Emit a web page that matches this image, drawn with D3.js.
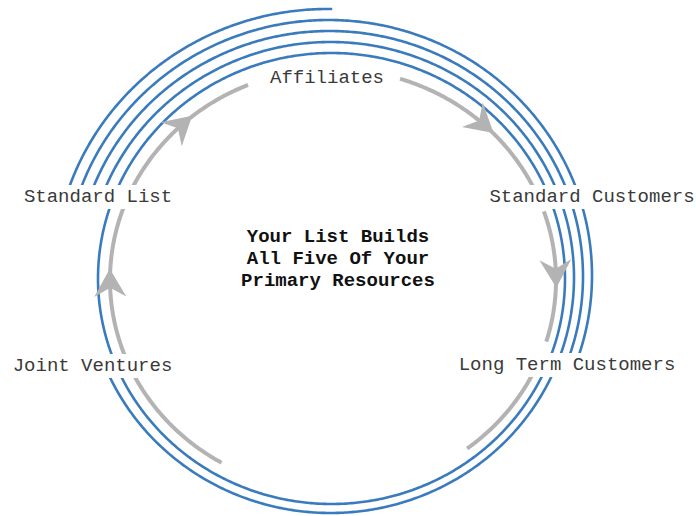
<!DOCTYPE html>
<html><head><meta charset="utf-8">
<script src="https://cdn.jsdelivr.net/npm/d3@7"></script>
<style>html,body{margin:0;padding:0;background:#fff;} svg{display:block;}</style>
</head><body>
<svg id="chart" width="696" height="516"></svg>
<script>
// ---------- data ----------
const stages = ["Affiliates", "Standard Customers", "Long Term Customers", "Joint Ventures", "Standard List"];
// blue rings, outermost first: where each ring starts and ends (clockwise)
const ringFrom = ["Standard List", "Standard List", "Standard List", "Standard List", "Joint Ventures"];
const ringTo   = ["Affiliates", "Long Term Customers", "Long Term Customers", "Joint Ventures", "Joint Ventures"];
// grey flow arrows between stages
const flowFrom  = ["Standard List", "Affiliates", "Standard Customers", "Long Term Customers", "Joint Ventures"];
const flowTo    = ["Affiliates", "Standard Customers", "Long Term Customers", "Joint Ventures", "Standard List"];
const flowArrow = [true, true, true, false, true];
const centerLines = ["Your List Builds", "All Five Of Your", "Primary Resources"];

// ---------- layout ----------
const W = 696, H = 516;
const stageAngle = {"Affiliates": 1, "Standard Customers": 70, "Long Term Customers": 111, "Joint Ventures": 248, "Standard List": 289};
const labelPos = {
  "Affiliates": [327, 83], "Standard Customers": [592, 202], "Long Term Customers": [567, 370],
  "Joint Ventures": [92.5, 371], "Standard List": [98, 202]
};
const ring0 = {cx: 331.5, cy: 278.5, rx: 233.5, ry: 225.5};   // innermost ring
const ringStep = 10, ringDrift = 1;
const grey = {cx: 333, cy: 280, rx: 223, ry: 211};
// visible grey pieces per flow (degrees, clockwise from top) and arrow position
const flowPieces = [[[-66, -22.4]], [[17.5, 64]], [[71, 107]], [[113, 143], [210, 247]], [[249, 294]]];
const flowArrowAt = [-43, 42, 88, null, -91];

const BLUE = "#3a7bbd", GREY = "#b3b3b3";
const FONT = "'Courier New', 'Liberation Mono', monospace";

const svg = d3.select("#chart");
svg.append("rect").attr("width", W).attr("height", H).attr("fill", "#fff");

const rad = d3.scaleLinear().domain([0, 360]).range([0, 2 * Math.PI]);
const pt = (e, a) => [e.cx + e.rx * Math.sin(a), e.cy - e.ry * Math.cos(a)];
const line = d3.line();
function arcPath(e, a0, a1) {
  const n = Math.max(8, Math.ceil(Math.abs(a1 - a0) * 2));
  const pts = d3.range(n + 1).map(i => pt(e, rad(a0 + (a1 - a0) * i / n)));
  return line(pts);
}

// blue rings
const rings = ringFrom.map((f, i) => {
  const k = ringFrom.length - 1 - i;
  const e = {cx: ring0.cx - k * ringDrift, cy: ring0.cy - k * ringDrift, rx: ring0.rx + k * ringStep, ry: ring0.ry + k * ringStep};
  let a0 = stageAngle[f], a1 = stageAngle[ringTo[i]];
  while (a1 <= a0) a1 += 360;
  return {e, a0, a1};
});
svg.append("g").selectAll("path").data(rings).join("path")
  .attr("d", d => arcPath(d.e, d.a0, d.a1))
  .attr("fill", "none").attr("stroke", BLUE).attr("stroke-width", 2.6);

// grey flows
const gFlow = svg.append("g");
flowFrom.forEach((f, i) => {
  flowPieces[i].forEach(p => {
    gFlow.append("path").attr("d", arcPath(grey, p[0], p[1]))
      .attr("fill", "none").attr("stroke", GREY).attr("stroke-width", 4);
  });
  if (flowArrow[i]) {
    const a = rad(flowArrowAt[i]);
    const [x, y] = pt(grey, a);
    const ang = Math.atan2(grey.ry * Math.sin(a), grey.rx * Math.cos(a)) * 180 / Math.PI;
    gFlow.append("path").attr("d", "M15,0L-13,-16L-4,0L-13,16Z")
      .attr("transform", `translate(${x},${y}) rotate(${ang})`)
      .attr("fill", GREY);
  }
});

// labels with white backing
const gLab = svg.append("g");
stages.forEach(s => {
  const g = gLab.append("g");
  const t = g.append("text").attr("x", labelPos[s][0]).attr("y", labelPos[s][1])
    .attr("text-anchor", "middle").attr("font-family", FONT).attr("font-size", 19)
    .attr("fill", "#3a3a3a").text(s);
  const b = t.node().getBBox();
  g.insert("rect", "text").attr("x", b.x - 2).attr("y", b.y - 1).attr("width", b.width + 4).attr("height", b.height + 2).attr("fill", "#fff");
});

// centre text
svg.append("g").selectAll("text").data(centerLines).join("text")
  .attr("x", 338).attr("y", (d, i) => 242 + i * 22)
  .attr("text-anchor", "middle").attr("font-family", FONT).attr("font-size", 19)
  .attr("font-weight", "bold").attr("fill", "#111").text(d => d);
</script>
</body></html>
